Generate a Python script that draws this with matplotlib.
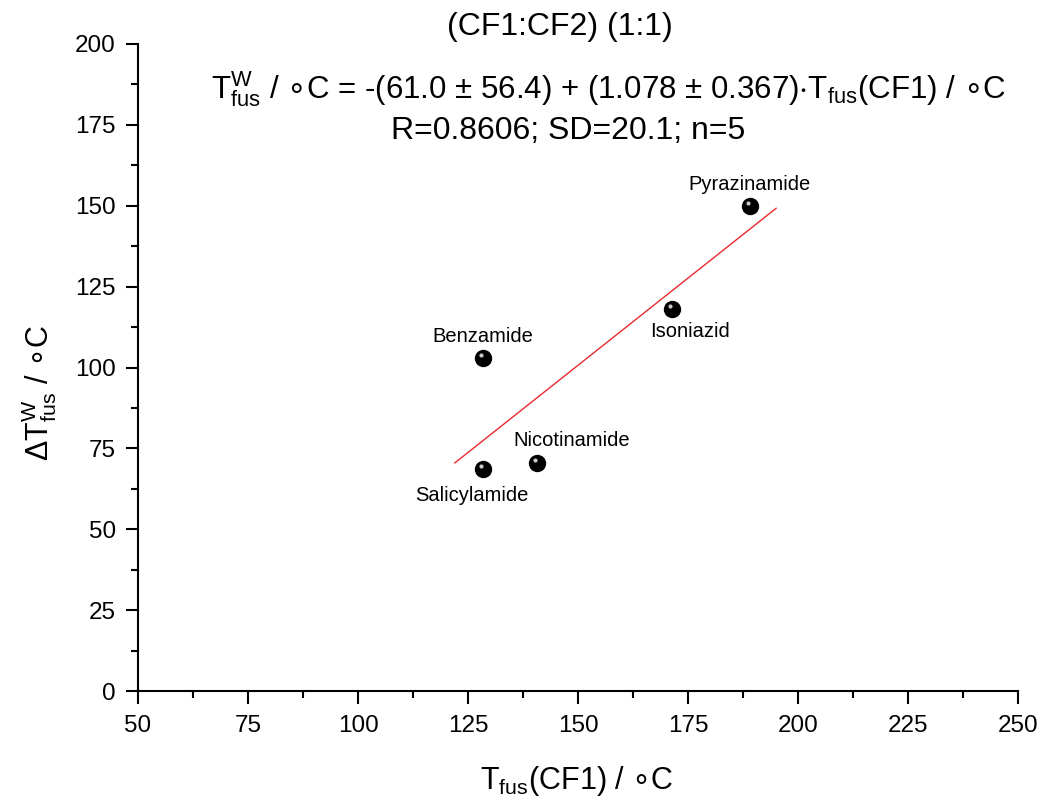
import numpy as np
import matplotlib
matplotlib.use("Agg")
import matplotlib.pyplot as plt
import matplotlib.transforms as mtransforms
from matplotlib.ticker import MultipleLocator

# data
names = ["Pyrazinamide", "Isoniazid", "Benzamide", "Nicotinamide", "Salicylamide"]
t_cf1 = [189.0, 171.4, 128.4, 140.7, 128.4]
dt_w = [150.0, 118.1, 103.0, 70.5, 68.7]
# label offsets in points (dx, dy) relative to the point
label_off = [(0, 15), (13, -16), (0, 15), (25, 16), (-8, -19)]

fit_a, fit_b = -61.0, 1.078
fit_x = [122.0, 195.0]

plt.rcParams['font.family'] = ['Liberation Sans', 'DejaVu Sans']
plt.rcParams['mathtext.fontset'] = 'custom'
plt.rcParams['mathtext.rm'] = 'Liberation Sans'
plt.rcParams['mathtext.it'] = 'Liberation Sans'
plt.rcParams['mathtext.bf'] = 'Liberation Sans'
plt.rcParams['mathtext.cal'] = 'DejaVu Sans'
plt.rcParams['mathtext.fallback'] = 'stixsans'

deg = r'$\mathcal{∘}$C'

fig = plt.figure(figsize=(10.44, 8.07), dpi=100)
ax = fig.add_axes([0.1322, 0.1437, 0.843, 0.8018])

fx = np.array(fit_x)
ax.plot(fx, fit_a + fit_b * fx, color='#e8292e', lw=1.0, zorder=2)

ax.plot(t_cf1, dt_w, 'o', color='black', ms=11.5, zorder=3)
hl = mtransforms.offset_copy(ax.transData, fig=fig, x=-1.5, y=1.8, units='points')
ax.plot(t_cf1, dt_w, 'o', color='#c8c8c8', ms=3.0, mec='none', zorder=4, transform=hl)

for n, x, y, (dx, dy) in zip(names, t_cf1, dt_w, label_off):
    ax.annotate(n, (x, y), xytext=(dx, dy), textcoords='offset points',
                ha='center', va='center', fontsize=14.5)

ax.set_xlim(50, 250)
ax.set_ylim(0, 200)
ax.xaxis.set_major_locator(MultipleLocator(25))
ax.xaxis.set_minor_locator(MultipleLocator(12.5))
ax.yaxis.set_major_locator(MultipleLocator(25))
ax.yaxis.set_minor_locator(MultipleLocator(12.5))
for s in ['top', 'right']:
    ax.spines[s].set_visible(False)
for s in ['left', 'bottom']:
    ax.spines[s].set_linewidth(1.5)
ax.tick_params(which='major', direction='out', length=9, width=1.5, labelsize=17.5)
ax.tick_params(axis='y', which='major', pad=7)
ax.tick_params(axis='x', which='major', pad=8)
ax.tick_params(which='minor', direction='out', length=5, width=1.5)

ax.set_xlabel(r'T$_{\mathrm{fus}}$(CF1) / ' + deg, fontsize=22)
ax.set_ylabel(r'$\Delta$T$^{\mathrm{W}}_{\mathrm{fus}}$ / ' + deg, fontsize=22)
ax.xaxis.set_label_coords(0.499, -0.113)
ax.yaxis.set_label_coords(-0.09, 0.46)

fig.text(0.536, 0.966, '(CF1:CF2) (1:1)', ha='center', va='center', fontsize=23)
fig.text(0.5825, 0.889,
         r'T$^{\mathrm{W}}_{\mathrm{fus}}$ / ' + deg
         + r' = -(61.0 $\pm$ 56.4) + (1.078 $\pm$ 0.367)$\cdot$T$_{\mathrm{fus}}$(CF1) / ' + deg,
         ha='center', va='center', fontsize=22.5)
fig.text(0.544, 0.838, 'R=0.8606; SD=20.1; n=5', ha='center', va='center', fontsize=23)

fig.savefig('out.png', dpi=100)
